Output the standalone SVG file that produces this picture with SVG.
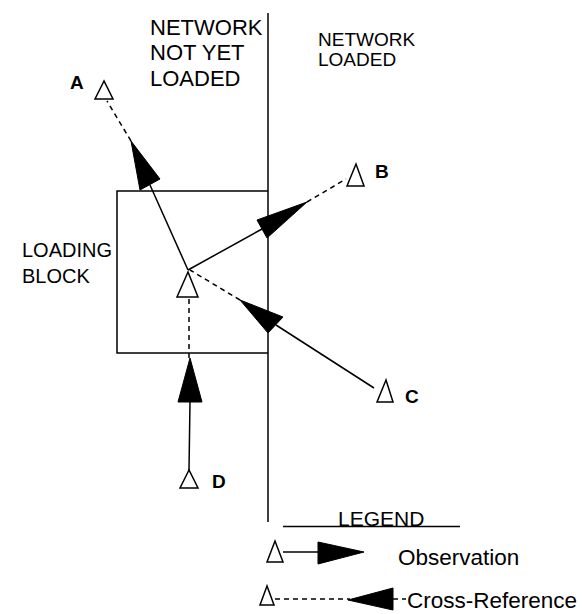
<svg xmlns="http://www.w3.org/2000/svg" width="582" height="614" viewBox="0 0 582 614">
  <style>
    .txt { font-family: "Liberation Sans", Arial, sans-serif; fill: #000; }
    .lbl { font-family: "Liberation Sans", Arial, sans-serif; font-weight: bold; font-size: 19px; fill: #000; }
    .solid { stroke: #000; stroke-width: 1.5; fill: none; }
    .dash { stroke: #000; stroke-width: 1.5; fill: none; stroke-dasharray: 5 4; }
    .sta { stroke: #000; stroke-width: 1.5; fill: #fff; stroke-linejoin: miter; }
    .head { fill: #000; stroke: #000; stroke-width: 1; }
  </style>

  <!-- region labels and divider -->
  <g id="divider">
    <line x1="268" y1="13" x2="268" y2="522" class="solid"/>
    <text class="txt" font-size="22" x="150" y="35">NETWORK</text>
    <text class="txt" font-size="22" x="150" y="60">NOT YET</text>
    <text class="txt" font-size="22" x="150" y="86">LOADED</text>
    <text class="txt" font-size="19" x="318" y="46">NETWORK</text>
    <text class="txt" font-size="19" x="318" y="66">LOADED</text>
  </g>

  <!-- loading block -->
  <g id="loading-block">
    <polyline points="268,191 117,191 117,353 268,353" class="solid"/>
    <text class="txt" font-size="20" x="22" y="257">LOADING</text>
    <text class="txt" font-size="20" x="22" y="283">BLOCK</text>
  </g>

  <!-- connectors -->
  <g id="connectors">
    <!-- centre to A -->
    <line x1="188" y1="270" x2="150" y2="185" class="solid"/>
    <polygon points="131,141 140,190 160,179" class="head"/>
    <line x1="131" y1="141" x2="107" y2="101" class="dash"/>
    <!-- centre to B -->
    <line x1="188" y1="270" x2="262" y2="229" class="solid"/>
    <polygon points="307,202 257,220 267,238" class="head"/>
    <line x1="307" y1="202" x2="346" y2="179" class="dash"/>
    <!-- C to centre -->
    <line x1="374" y1="388" x2="276" y2="325" class="solid"/>
    <polygon points="240,300 283,317 268,333" class="head"/>
    <line x1="240" y1="300" x2="190" y2="270" class="dash"/>
    <!-- D to centre -->
    <line x1="189" y1="470" x2="190" y2="402" class="solid"/>
    <polygon points="190,358 178,402 202,402" class="head"/>
    <line x1="189" y1="358" x2="189" y2="297" class="dash"/>
  </g>

  <!-- stations -->
  <g id="station-centre">
    <polygon points="188,272 177,297 198,297" class="sta"/>
  </g>
  <g id="station-A">
    <polygon points="104,81 95,99 113,99" class="sta"/>
    <text class="lbl" x="70" y="89">A</text>
  </g>
  <g id="station-B">
    <polygon points="356,164 347,186 364,186" class="sta"/>
    <text class="lbl" x="375" y="178">B</text>
  </g>
  <g id="station-C">
    <polygon points="386,380 377,402 393,402" class="sta"/>
    <text class="lbl" x="405" y="403">C</text>
  </g>
  <g id="station-D">
    <polygon points="189,470 180,488 198,488" class="sta"/>
    <text class="lbl" x="212" y="488">D</text>
  </g>

  <!-- legend -->
  <g id="legend">
    <text class="txt" font-size="21" x="338" y="526">LEGEND</text>
    <line x1="283" y1="526.5" x2="460" y2="526.5" class="solid"/>
    <polygon points="275,541 267,562 283,562" class="sta"/>
    <line x1="283" y1="552" x2="318" y2="552" class="solid"/>
    <polygon points="318,542 318,564 364,552" class="head"/>
    <text class="txt" font-size="22.5" x="398" y="565">Observation</text>
    <polygon points="267,586 260,605 274,605" class="sta"/>
    <line x1="275" y1="599" x2="350" y2="599" class="dash"/>
    <polygon points="348,600 393,588 393,610" class="head"/>
    <line x1="393" y1="599" x2="406" y2="599" class="dash" stroke-dasharray="3 2"/>
    <text class="txt" font-size="22.5" x="407" y="608">Cross-Reference</text>
  </g>
</svg>
